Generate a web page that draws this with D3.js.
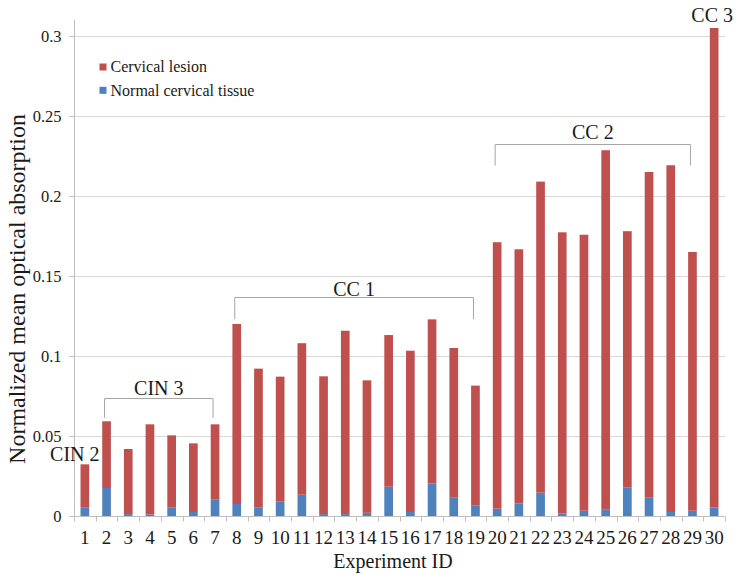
<!DOCTYPE html>
<html>
<head>
<meta charset="utf-8">
<script src="https://cdn.jsdelivr.net/npm/d3@7"></script>
<style>
  html, body { margin: 0; padding: 0; background: #fff; }
  svg { display: block; }
</style>
</head>
<body>
<svg id="chart" width="743" height="578"></svg>
<script>
// ---- data ----
const experimentIds = d3.range(1, 31).map(String);
const normalTissue = [0.0052, 0.0175, 0.0012, 0.0010, 0.0052, 0.0025, 0.0102, 0.0075, 0.0052, 0.0092,
                      0.0133, 0.0012, 0.0012, 0.0020, 0.0183, 0.0025, 0.0204, 0.0114, 0.0067, 0.0046,
                      0.0079, 0.0146, 0.0017, 0.0033, 0.0039, 0.0177, 0.0114, 0.0025, 0.0033, 0.0054];
const cervicalLesion = [0.0271, 0.0417, 0.0407, 0.0563, 0.0452, 0.0429, 0.0471, 0.1125, 0.0869, 0.0779,
                        0.0947, 0.0861, 0.1146, 0.0828, 0.0948, 0.1008, 0.1025, 0.0936, 0.0748, 0.1665,
                        0.1588, 0.1944, 0.1756, 0.1725, 0.2247, 0.1603, 0.2036, 0.2167, 0.1617, 0.2996];
const yTicks = [0, 0.05, 0.1, 0.15, 0.2, 0.25, 0.3];
const yTickLabels = ["0", "0.05", "0.1", "0.15", "0.2", "0.25", "0.3"];
const seriesNames = ["Cervical lesion", "Normal cervical tissue"];
const groupLabels = ["CIN 2", "CIN 3", "CC 1", "CC 2", "CC 3"];
const groupStart = ["1", "2", "8", "20", "30"];
const groupEnd   = ["1", "7", "19", "29", "30"];

// ---- layout ----
const FONT = "Liberation Serif";
const svg = d3.select("#chart").attr("font-family", FONT);
const pLeft = 74, pRight = 725, pTop = 20, pBottom = 516;
const colors = { lesion: "#c0504d", normal: "#4f81bd" };
const textColor = "#1a1a1a";

const x = d3.scaleBand().domain(experimentIds).range([pLeft, pRight]).paddingInner(0.6).paddingOuter(0.3);
const y = d3.scaleLinear().domain([0, 0.31]).range([pBottom, pTop]);

// gridlines
svg.append("g").selectAll("line").data(yTicks.filter(d => d > 0)).join("line")
  .attr("x1", pLeft).attr("x2", pRight)
  .attr("y1", d => Math.round(y(d)) + 0.5).attr("y2", d => Math.round(y(d)) + 0.5)
  .attr("stroke", "#d9d9d9").attr("stroke-width", 1);

// stacked bars
const rows = experimentIds.map((id, i) => ({ id, normal: normalTissue[i], lesion: cervicalLesion[i] }));
const stack = d3.stack().keys(["normal", "lesion"])(rows);
svg.append("g").selectAll("g").data(stack).join("g")
  .attr("fill", s => colors[s.key])
  .selectAll("rect").data(s => s).join("rect")
  .attr("x", d => x(d.data.id))
  .attr("width", x.bandwidth())
  .attr("y", d => y(d[1]))
  .attr("height", d => y(d[0]) - y(d[1]));

// y axis
const yAxis = d3.axisLeft(y).tickValues(yTicks).tickFormat((d, i) => yTickLabels[i]).tickSize(5).tickPadding(8);
const gy = svg.append("g").attr("transform", `translate(${pLeft + 0.5},0)`).call(yAxis)
  .attr("font-family", FONT).attr("font-size", 16.5);
gy.select(".domain").attr("stroke", "#bfbfbf").attr("d", `M0,${pTop}V${pBottom}`);
gy.selectAll(".tick line").attr("stroke", "#bfbfbf");
gy.selectAll(".tick text").attr("fill", textColor);

// x axis
const gx = svg.append("g").attr("transform", `translate(0,${pBottom + 0.5})`);
gx.append("line").attr("x1", pLeft).attr("x2", pRight).attr("stroke", "#bfbfbf");
const step = x.step();
gx.selectAll("line.tk").data(d3.range(0, 31)).join("line").attr("class", "tk")
  .attr("x1", i => Math.round(pLeft + i * step) + 0.5).attr("x2", i => Math.round(pLeft + i * step) + 0.5)
  .attr("y1", 0).attr("y2", 5).attr("stroke", "#bfbfbf");
gx.selectAll("text").data(experimentIds).join("text")
  .attr("x", d => x(d) + x.bandwidth() / 2)
  .attr("y", 27)
  .attr("text-anchor", "middle")
  .attr("font-family", FONT).attr("font-size", 19).attr("fill", textColor)
  .text(d => d);

// axis titles
svg.append("text").attr("x", 393).attr("y", 568).attr("text-anchor", "middle")
  .attr("font-family", FONT).attr("font-size", 20).attr("fill", textColor).text("Experiment ID");
svg.append("text").attr("transform", "translate(25,289) rotate(-90)").attr("text-anchor", "middle")
  .attr("font-family", FONT).attr("font-size", 24).attr("fill", textColor).text("Normalized mean optical absorption");

// legend
const legend = svg.append("g");
[colors.lesion, colors.normal].forEach((c, i) => {
  legend.append("rect").attr("x", 99.5).attr("y", 63.5 + i * 23.3).attr("width", 7).attr("height", 7).attr("fill", c);
  legend.append("text").attr("x", 110.5).attr("y", 72.3 + i * 23.3)
    .attr("font-family", FONT).attr("font-size", 16).attr("fill", textColor).text(seriesNames[i]);
});

// group brackets and labels
const cx = id => x(id) + x.bandwidth() / 2;
const bracketTop = [null, 0.0736, 0.1367, 0.2323, null];
const bracketFoot = [null, 0.0613, 0.1230, 0.2190, null];
const labelLevel = [0.0345, 0.0755, 0.1375, 0.2355, 0.3085];
const ann = svg.append("g");
groupLabels.forEach((lab, i) => {
  const x0 = cx(groupStart[i]) - 2, x1 = cx(groupEnd[i]) - 2;
  if (bracketTop[i] !== null) {
    const yt = Math.round(y(bracketTop[i])) + 0.5, yf = y(bracketFoot[i]);
    ann.append("path").attr("d", `M${x0},${yf}V${yt}H${x1}V${yf}`)
      .attr("fill", "none").attr("stroke", "#a6a6a6").attr("stroke-width", 1);
  }
  let tx = (x0 + x1) / 2;
  if (i === 0) tx = cx(groupStart[i]) - 10;
  ann.append("text").attr("x", tx).attr("y", y(labelLevel[i]))
    .attr("text-anchor", "middle").attr("font-family", FONT).attr("font-size", 20)
    .attr("fill", textColor).text(lab);
});
</script>
</body>
</html>
